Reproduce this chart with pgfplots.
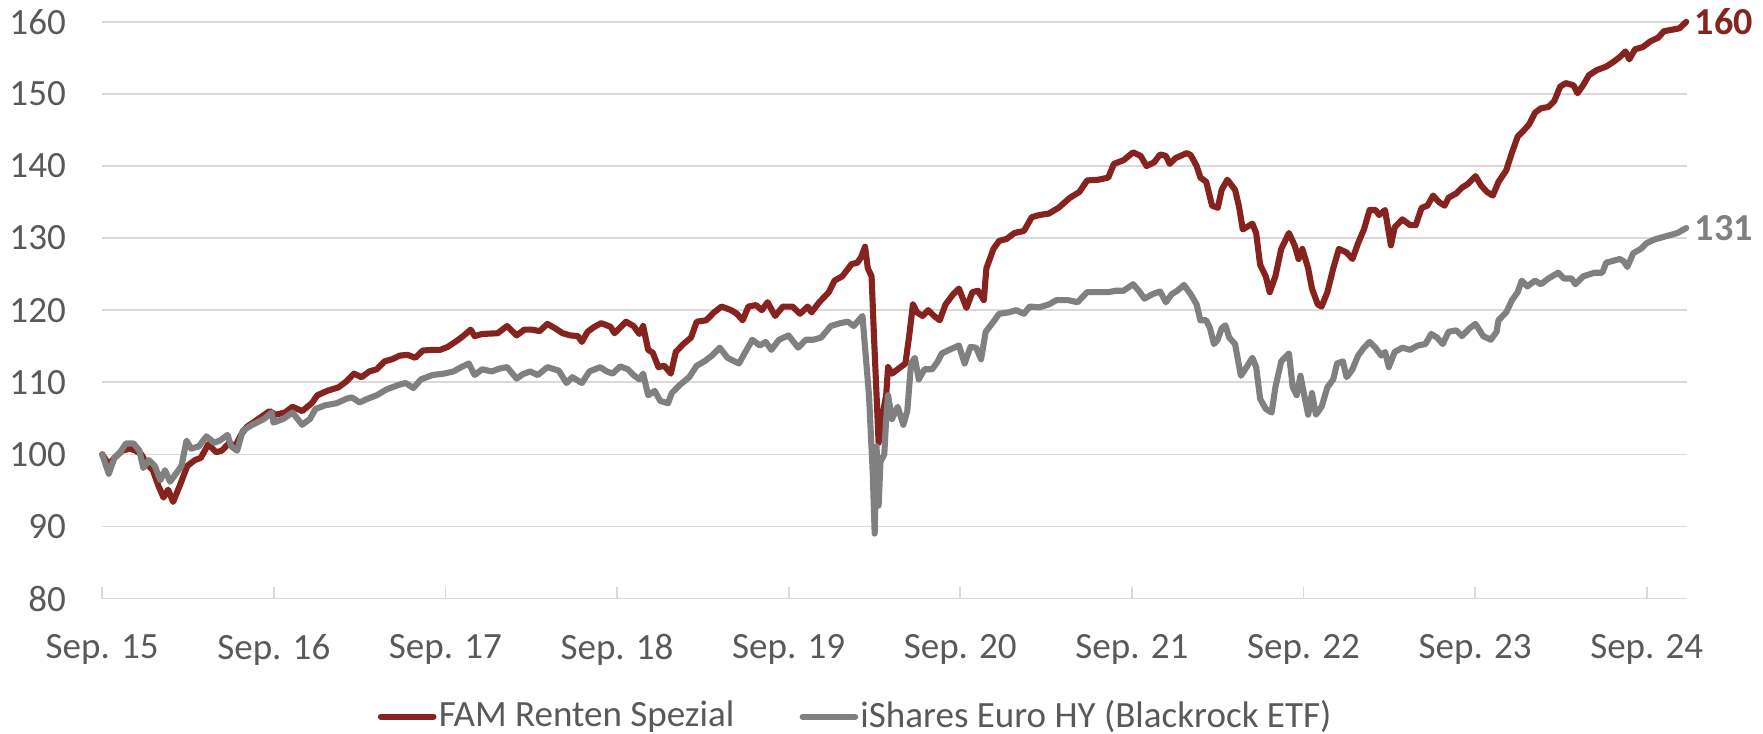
\documentclass[border=0pt]{standalone}
\usepackage{pgfplots}
\pgfplotsset{compat=1.18}
\usepackage{fontspec}
\setmainfont{Carlito}
\definecolor{famred}{RGB}{135,35,30}
\definecolor{etfgray}{RGB}{128,128,128}
\definecolor{txtgray}{RGB}{89,89,89}
\definecolor{gridgray}{RGB}{217,217,217}

\pgfplotstableread{
t y
0.000 100.0
0.038 98.6
0.071 99.5
0.116 100.5
0.161 100.8
0.194 100.5
0.228 100.0
0.261 98.6
0.295 97.8
0.328 95.6
0.357 94.0
0.384 95.1
0.413 93.4
0.451 95.6
0.496 98.4
0.540 99.2
0.574 99.5
0.618 101.4
0.663 100.3
0.696 100.5
0.741 101.6
0.775 101.1
0.808 102.7
0.842 103.8
0.897 104.7
0.975 106.0
1.009 105.5
1.065 105.8
1.109 106.6
1.165 106.0
1.221 107.1
1.254 108.2
1.310 108.8
1.377 109.3
1.422 110.1
1.467 111.2
1.511 110.7
1.556 111.5
1.600 111.8
1.645 112.9
1.690 113.2
1.734 113.7
1.779 113.8
1.824 113.4
1.868 114.4
1.924 114.5
1.969 114.5
2.013 114.9
2.069 115.8
2.103 116.4
2.147 117.3
2.170 116.4
2.214 116.7
2.304 116.8
2.359 117.8
2.415 116.5
2.460 117.3
2.504 117.3
2.549 117.1
2.594 118.1
2.638 117.5
2.683 116.8
2.728 116.5
2.772 116.4
2.795 115.6
2.828 117.0
2.862 117.6
2.907 118.2
2.962 117.7
2.985 116.8
3.052 118.4
3.096 117.8
3.130 116.7
3.152 117.8
3.181 114.5
3.208 114.1
3.241 112.1
3.275 112.3
3.313 111.2
3.342 114.2
3.386 115.3
3.431 116.2
3.464 118.4
3.520 118.6
3.565 119.7
3.609 120.5
3.665 120.0
3.698 119.5
3.732 118.6
3.765 120.5
3.810 120.7
3.843 120.0
3.877 121.1
3.921 119.2
3.966 120.5
4.022 120.5
4.066 119.5
4.111 120.5
4.133 119.7
4.178 121.1
4.234 122.5
4.267 124.1
4.312 124.7
4.367 126.4
4.401 126.6
4.423 127.4
4.445 128.8
4.461 125.8
4.483 124.7
4.497 116.4
4.512 108.2
4.524 101.6
4.546 105.4
4.568 108.2
4.579 112.1
4.602 111.2
4.635 111.8
4.680 112.6
4.702 116.4
4.724 120.8
4.747 119.7
4.780 119.2
4.813 120.0
4.847 119.2
4.880 118.6
4.914 120.8
4.958 122.2
4.992 123.0
5.036 120.3
5.070 122.5
5.103 122.7
5.137 121.4
5.152 125.8
5.193 128.5
5.226 129.6
5.271 129.9
5.315 130.7
5.371 131.0
5.416 132.9
5.460 133.2
5.516 133.4
5.572 134.2
5.639 135.6
5.694 136.4
5.739 138.0
5.806 138.1
5.862 138.4
5.895 140.3
5.951 140.8
6.007 141.9
6.051 141.4
6.085 140.0
6.129 140.5
6.164 141.6
6.198 141.4
6.220 140.3
6.254 141.1
6.321 141.8
6.343 141.5
6.377 140.0
6.399 138.4
6.433 137.8
6.467 134.5
6.500 134.2
6.523 136.7
6.556 138.1
6.601 136.7
6.623 134.5
6.646 131.2
6.702 132.0
6.724 130.7
6.747 126.3
6.780 124.7
6.803 122.5
6.836 124.7
6.870 128.5
6.915 130.7
6.948 129.0
6.971 127.1
6.993 128.5
7.027 125.8
7.049 123.0
7.083 120.8
7.105 120.5
7.139 122.5
7.173 125.8
7.206 128.5
7.251 128.0
7.285 127.1
7.318 129.3
7.352 131.2
7.385 133.9
7.419 133.9
7.441 133.2
7.475 133.9
7.509 129.0
7.531 131.5
7.576 132.6
7.621 131.8
7.654 131.8
7.688 134.2
7.722 134.5
7.755 135.9
7.789 135.0
7.822 134.5
7.845 135.6
7.890 136.2
7.923 137.0
7.957 137.5
8.002 138.6
8.035 137.3
8.069 136.4
8.103 135.9
8.136 137.8
8.181 139.4
8.215 141.9
8.248 144.1
8.282 144.9
8.315 145.8
8.349 147.4
8.383 148.0
8.427 148.2
8.461 149.0
8.495 151.0
8.528 151.5
8.573 151.2
8.596 150.1
8.629 151.2
8.663 152.6
8.708 153.3
8.764 153.8
8.809 154.5
8.842 155.1
8.876 155.9
8.898 154.8
8.932 156.2
8.977 156.5
9.021 157.3
9.066 157.8
9.100 158.7
9.145 158.9
9.190 159.1
9.230 160.0
}\famdata

\pgfplotstableread{
t y
0.000 100.0
0.038 97.3
0.071 99.5
0.105 100.3
0.138 101.5
0.183 101.5
0.217 100.5
0.239 98.1
0.272 99.2
0.306 98.4
0.339 96.4
0.366 97.8
0.395 96.2
0.429 97.3
0.462 98.4
0.491 101.9
0.518 100.8
0.563 101.1
0.607 102.5
0.652 101.6
0.685 101.9
0.730 102.7
0.752 101.1
0.786 100.5
0.819 103.3
0.875 104.1
0.942 104.9
0.987 105.8
0.998 104.4
1.054 104.9
1.109 105.8
1.165 104.1
1.210 104.9
1.243 106.3
1.299 106.8
1.366 107.1
1.422 107.7
1.455 107.9
1.500 107.2
1.545 107.7
1.600 108.2
1.656 109.0
1.723 109.6
1.768 109.9
1.813 109.2
1.857 110.4
1.924 111.0
1.991 111.2
2.047 111.5
2.092 112.1
2.136 112.6
2.170 111.0
2.214 111.8
2.270 111.5
2.315 111.9
2.359 112.1
2.415 110.5
2.449 111.1
2.493 111.5
2.538 111.0
2.594 112.1
2.661 111.6
2.705 109.9
2.739 110.7
2.795 109.9
2.839 111.5
2.902 112.1
2.940 111.5
2.974 111.2
3.018 112.2
3.063 111.8
3.096 111.0
3.130 110.4
3.152 111.2
3.181 108.2
3.219 108.8
3.252 107.4
3.297 107.1
3.319 108.5
3.364 109.6
3.420 110.7
3.464 112.3
3.509 112.9
3.553 113.7
3.598 114.8
3.643 113.4
3.710 112.6
3.743 114.0
3.788 115.9
3.832 115.1
3.866 115.6
3.899 114.5
3.944 115.9
3.999 116.5
4.055 114.8
4.100 115.9
4.144 115.9
4.189 116.2
4.245 117.8
4.301 118.2
4.345 118.4
4.379 117.8
4.430 119.2
4.445 114.8
4.468 108.2
4.479 102.7
4.490 97.3
4.501 89.0
4.512 101.1
4.524 92.9
4.535 99.0
4.557 100.0
4.568 104.9
4.579 108.2
4.602 104.9
4.635 106.6
4.668 104.1
4.691 106.0
4.713 112.6
4.735 113.4
4.758 110.4
4.791 111.8
4.836 111.8
4.869 112.9
4.892 114.0
4.936 114.5
4.992 115.1
5.025 112.6
5.059 114.9
5.092 114.8
5.121 113.2
5.148 117.0
5.193 118.4
5.226 119.5
5.282 119.7
5.326 120.0
5.371 119.5
5.404 120.5
5.460 120.4
5.516 120.8
5.561 121.4
5.627 121.4
5.683 121.1
5.739 122.5
5.806 122.5
5.862 122.5
5.906 122.7
5.951 122.7
6.007 123.6
6.040 122.7
6.073 121.6
6.118 122.2
6.164 122.6
6.198 121.1
6.231 122.2
6.265 122.7
6.303 123.5
6.343 122.2
6.377 120.8
6.399 118.6
6.433 118.6
6.455 117.5
6.478 115.3
6.500 115.9
6.523 117.5
6.545 117.9
6.567 116.2
6.601 115.3
6.635 110.9
6.668 112.1
6.702 113.4
6.724 112.1
6.747 107.7
6.780 106.3
6.814 105.8
6.836 109.3
6.870 112.9
6.915 114.0
6.937 109.3
6.960 108.2
6.982 110.9
7.004 108.2
7.027 105.5
7.049 108.5
7.072 105.5
7.105 106.6
7.139 109.3
7.173 110.4
7.195 112.6
7.229 112.9
7.251 110.7
7.285 111.8
7.318 113.7
7.352 114.8
7.385 115.6
7.419 114.8
7.453 113.7
7.475 114.2
7.497 112.1
7.531 114.2
7.576 114.8
7.621 114.5
7.666 115.1
7.710 115.3
7.744 116.7
7.778 116.2
7.811 115.3
7.845 117.0
7.890 117.2
7.923 116.4
7.968 117.5
8.002 118.1
8.047 116.4
8.091 115.9
8.125 117.0
8.136 118.6
8.181 119.7
8.215 121.4
8.248 122.5
8.271 124.1
8.304 123.3
8.349 124.1
8.383 123.6
8.427 124.4
8.484 125.2
8.517 124.4
8.562 124.4
8.584 123.6
8.629 124.7
8.696 125.2
8.741 125.2
8.764 126.6
8.797 126.8
8.842 127.1
8.865 126.8
8.887 126.0
8.921 127.9
8.965 128.5
8.999 129.3
9.044 129.8
9.089 130.1
9.133 130.4
9.178 130.7
9.230 131.4
}\etfdata

\begin{document}
\begin{tikzpicture}
\begin{axis}[
  name=ax,
  scale only axis,
  width=427.9pt, height=155.7pt,
  xmin=0, xmax=9.235,
  ymin=80, ymax=160,
  clip=false,
  axis x line=bottom,
  axis y line=left,
  x axis line style={draw=gridgray, line width=0.45pt, -},
  y axis line style={draw=none},
  xtick={0,1,2,3,4,5,6,7,8,9},
  xticklabels={Sep. 15,Sep. 16,Sep. 17,Sep. 18,Sep. 19,Sep. 20,Sep. 21,Sep. 22,Sep. 23,Sep. 24},
  ytick={80,90,...,160},
  tick align=inside,
  major tick length=3pt,
  xtick style={draw=gridgray, line width=0.45pt},
  ytick style={draw=none},
  ymajorgrids,
  grid style={draw=gridgray, line width=0.45pt},
  /pgf/number format/assume math mode=true,
  ticklabel style={font=\fontsize{10}{12}\selectfont, text=txtgray},
  yticklabel style={xshift=-6.3pt},
  xticklabel style={yshift=-6.2pt},
  legend columns=2,
  legend style={
    draw=none, fill=none, inner sep=0pt, outer sep=0pt,
    at={(axis description cs:0.1739,-0.205)}, anchor=west,
    font=\fontsize{10}{12}\selectfont, text=txtgray,
    nodes={inner xsep=0.6pt, inner ysep=1pt},
    /tikz/every even column/.append style={column sep=17pt},
  },
  legend cell align=left,
  legend image code/.code={\draw[#1, line cap=round] (0.4pt,0pt) -- (14.6pt,0pt);},
]
\addplot[famred, line width=1.65pt, line join=round, line cap=round] table[x=t, y=y] {\famdata}
  node[pos=1, anchor=west, inner sep=0pt, xshift=1.5pt, font=\fontsize{10.3}{12}\selectfont\bfseries, text=famred] {160};
\addlegendentry{FAM Renten Spezial}
\addplot[etfgray, line width=1.65pt, line join=round, line cap=round] table[x=t, y=y] {\etfdata}
  node[pos=1, anchor=west, inner sep=0pt, xshift=1.5pt, font=\fontsize{10.3}{12}\selectfont\bfseries, text=etfgray] {131};
\addlegendentry{iShares Euro HY (Blackrock ETF)}
\end{axis}
\pgfresetboundingbox
\path[use as bounding box] ([shift={(-27.6pt,-36.5pt)}]ax.south west) rectangle ([shift={(20.5pt,5.9pt)}]ax.north east);
\end{tikzpicture}
\end{document}
